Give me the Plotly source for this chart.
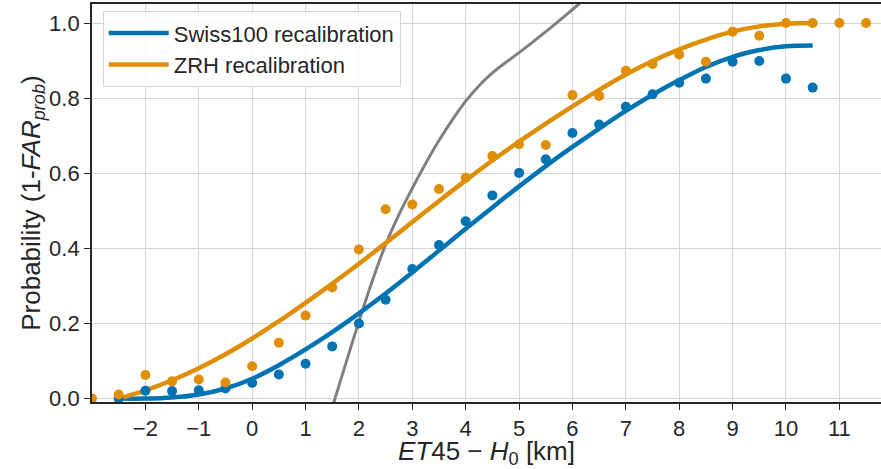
import plotly.graph_objects as go

# ---- data ----
swiss_pts_x = [-2.5, -2, -1.5, -1, -0.5, 0, 0.5, 1, 1.5, 2, 2.5, 3, 3.5, 4, 4.5, 5, 5.5,
               6, 6.5, 7, 7.5, 8, 8.5, 9, 9.5, 10, 10.5]
swiss_pts_y = [0.0, 0.021, 0.02, 0.022, 0.027, 0.042, 0.064, 0.093, 0.139, 0.200, 0.263,
               0.345, 0.409, 0.472, 0.541, 0.601, 0.637, 0.707, 0.730, 0.777, 0.810,
               0.841, 0.852, 0.897, 0.899, 0.852, 0.828]

zrh_pts_x = [-3, -2.5, -2, -1.5, -1, -0.5, 0, 0.5, 1, 1.5, 2, 2.5, 3, 3.5, 4, 4.5, 5, 5.5,
             6, 6.5, 7, 7.5, 8, 8.5, 9, 9.5, 10, 10.5, 11, 11.5]
zrh_pts_y = [0.0, 0.011, 0.063, 0.046, 0.051, 0.043, 0.086, 0.149, 0.221, 0.296, 0.397,
             0.504, 0.517, 0.558, 0.588, 0.646, 0.677, 0.675, 0.808, 0.806, 0.873,
             0.891, 0.916, 0.897, 0.977, 0.966, 1.0, 1.0, 1.0, 1.0]

curve_x = [-2.5, -2, -1.5, -1, -0.5, 0, 0.5, 1, 1.5, 2, 2.5, 3, 3.5, 4, 4.5, 5, 5.5,
           6, 6.5, 7, 7.5, 8, 8.5, 9, 9.5, 10, 10.5]
swiss_curve_y = [0.0, 0.0, 0.003, 0.011, 0.027, 0.053, 0.089, 0.131, 0.177, 0.227, 0.280,
                 0.336, 0.394, 0.452, 0.509, 0.565, 0.619, 0.670, 0.719, 0.766, 0.809,
                 0.848, 0.883, 0.910, 0.928, 0.938, 0.940]
zrh_curve_y = [0.0, 0.022, 0.049, 0.081, 0.118, 0.160, 0.206, 0.255, 0.306, 0.359, 0.414,
               0.470, 0.526, 0.581, 0.634, 0.684, 0.732, 0.778, 0.822, 0.863, 0.899,
               0.930, 0.956, 0.977, 0.991, 0.998, 1.0]

ref_x = [1.53, 2.0, 2.25, 2.5, 2.75, 3.0, 3.25, 3.5, 3.75, 4.0, 4.25, 4.5, 4.75, 5.0,
         5.5, 6.0, 6.25]
ref_y = [-0.01, 0.205, 0.313, 0.41, 0.49, 0.56, 0.626, 0.687, 0.742, 0.792, 0.833, 0.867,
         0.895, 0.921, 0.977, 1.036, 1.066]

x_ticks = list(range(-2, 12))
y_ticks = [0.0, 0.2, 0.4, 0.6, 0.8, 1.0]

x_title = "<i>ET</i>45 − <i>H</i><sub>0</sub> [km]"
y_title = "Probability (1-<i>FAR</i><sub><i>prob</i></sub>)"

BLUE = "#0173b2"
ORANGE = "#de8f05"
GREY = "#808080"
TXT = "#262626"
FONT = "Liberation Sans, Arial, sans-serif"

fig = go.Figure()
fig.add_trace(go.Scatter(x=ref_x, y=ref_y, mode="lines",
                         line=dict(color=GREY, width=3, shape="spline", smoothing=1.0),
                         showlegend=False))
fig.add_trace(go.Scatter(x=curve_x, y=swiss_curve_y, mode="lines", name="Swiss100 recalibration",
                         line=dict(color=BLUE, width=4.5, shape="spline")))
fig.add_trace(go.Scatter(x=curve_x, y=zrh_curve_y, mode="lines", name="ZRH recalibration",
                         line=dict(color=ORANGE, width=4.5, shape="spline")))
fig.add_trace(go.Scatter(x=swiss_pts_x, y=swiss_pts_y, mode="markers",
                         marker=dict(color=BLUE, size=10), showlegend=False))
fig.add_trace(go.Scatter(x=zrh_pts_x, y=zrh_pts_y, mode="markers",
                         marker=dict(color=ORANGE, size=10), showlegend=False))

fig.update_layout(
    width=881, height=469,
    margin=dict(l=92, r=0, t=4, b=67),
    paper_bgcolor="white", plot_bgcolor="white",
    font=dict(family=FONT, size=22, color=TXT),
    legend=dict(x=0.0136, y=0.982, xanchor="left", yanchor="top",
                bgcolor="rgba(255,255,255,0.85)", bordercolor="#d6d6d6", borderwidth=1,
                itemwidth=60, font=dict(size=22, color=TXT)),
)
fig.update_xaxes(
    range=[-3.0, 11.78], tickvals=x_ticks, ticks="outside", ticklen=6, tickwidth=1.3,
    tickcolor=TXT, showline=True, linecolor=TXT, linewidth=1.8, mirror=True,
    showgrid=True, gridcolor="#d5d5d5", gridwidth=1, zeroline=False, automargin=False,
    title=dict(text=x_title, standoff=16),
)
fig.update_yaxes(
    range=[-0.009, 1.0506], tickvals=y_ticks, tickformat=".1f", ticks="outside", ticklen=6,
    tickwidth=1.3, tickcolor=TXT, showline=True, linecolor=TXT, linewidth=1.8,
    showgrid=True, gridcolor="#d5d5d5", gridwidth=1, zeroline=False, automargin=True,
    title=dict(text=y_title, standoff=0),
)

fig.write_html("out.html", config={"displayModeBar": False},
               post_script="document.body.style.margin='0';document.body.style.overflow='hidden';")
